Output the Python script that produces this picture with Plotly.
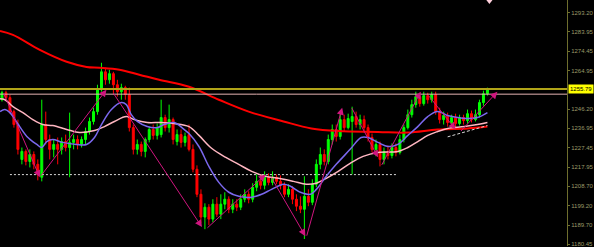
import plotly.graph_objects as go

# ---------------- data ----------------
opens = [
    1250.8, 1254.2, 1251.8, 1245.0, 1238.7, 1221.7, 1225.6, 1220.7, 1224.1, 1219.3,
    1213.0, 1238.7, 1231.4, 1226.6, 1229.0, 1226.6, 1230.4, 1227.5, 1230.0, 1231.4,
    1229.0, 1231.4, 1235.3, 1240.2, 1245.0, 1255.7, 1264.4, 1260.5, 1263.5, 1258.1,
    1254.7, 1256.7, 1253.3, 1237.2, 1226.6, 1229.0, 1225.6, 1231.4, 1236.3, 1233.4,
    1233.8, 1242.1, 1237.2, 1241.1, 1230.4, 1233.8, 1230.0, 1233.8, 1226.6, 1216.9,
    1204.7, 1193.6, 1198.4, 1192.6, 1199.9, 1195.0, 1199.9, 1202.3, 1197.4, 1199.9,
    1198.4, 1202.3, 1204.7, 1202.3, 1208.1, 1211.0, 1209.1, 1213.0, 1210.5, 1213.0,
    1211.0, 1209.1, 1204.7, 1207.1, 1202.3, 1198.9, 1197.4, 1203.7, 1200.8, 1209.6,
    1219.3, 1224.1, 1220.7, 1231.4, 1236.3, 1232.9, 1241.1, 1237.2, 1240.2, 1242.6,
    1238.7, 1241.1, 1237.2, 1232.4, 1226.6, 1229.0, 1221.7, 1225.6, 1223.6, 1227.5,
    1225.1, 1231.4, 1237.2, 1243.5, 1248.4, 1252.3, 1248.9, 1252.8, 1250.8, 1253.3,
    1245.0, 1241.1, 1243.1, 1239.7, 1242.1, 1239.2, 1242.1, 1240.6, 1244.0, 1241.1,
    1243.5, 1249.4, 1253.7]
highs = [
    1255.2, 1255.2, 1253.3, 1246.0, 1241.1, 1227.5, 1226.6, 1226.6, 1225.6, 1221.7,
    1250.8, 1245.0, 1233.8, 1231.4, 1232.4, 1232.4, 1233.8, 1244.5, 1233.8, 1233.4,
    1232.9, 1237.2, 1242.1, 1246.9, 1258.1, 1268.8, 1266.4, 1265.4, 1264.4, 1260.5,
    1258.6, 1257.6, 1256.7, 1238.7, 1231.4, 1230.4, 1232.4, 1237.7, 1238.7, 1239.2,
    1250.8, 1243.5, 1248.4, 1242.1, 1236.3, 1236.3, 1234.8, 1238.7, 1229.0, 1218.8,
    1207.1, 1200.3, 1199.9, 1202.3, 1203.3, 1204.7, 1205.7, 1203.7, 1202.3, 1202.3,
    1204.7, 1207.1, 1206.2, 1210.1, 1214.4, 1214.4, 1215.9, 1214.9, 1215.9, 1214.4,
    1213.9, 1210.5, 1209.6, 1208.6, 1204.7, 1203.7, 1213.5, 1207.1, 1212.0, 1221.7,
    1227.5, 1226.6, 1233.8, 1238.7, 1238.7, 1245.0, 1243.5, 1244.0, 1247.4, 1245.0,
    1243.5, 1243.1, 1238.7, 1234.3, 1231.4, 1230.4, 1227.5, 1228.5, 1229.5, 1229.5,
    1233.8, 1238.7, 1246.0, 1250.8, 1254.7, 1254.2, 1254.7, 1254.2, 1254.7, 1254.7,
    1246.9, 1245.0, 1244.5, 1243.5, 1244.0, 1243.5, 1243.5, 1246.0, 1245.5, 1246.0,
    1250.8, 1255.2, 1256.7]
lows = [
    1249.9, 1250.8, 1244.0, 1237.2, 1224.1, 1219.3, 1218.8, 1217.8, 1216.9, 1211.5,
    1211.0, 1229.0, 1221.7, 1222.7, 1219.3, 1224.1, 1225.6, 1213.0, 1226.6, 1226.6,
    1227.5, 1229.0, 1233.8, 1238.7, 1243.5, 1254.7, 1258.1, 1258.6, 1253.3, 1252.3,
    1250.8, 1250.8, 1235.3, 1224.1, 1224.1, 1223.2, 1222.7, 1230.0, 1231.4, 1231.4,
    1232.4, 1235.3, 1234.8, 1229.0, 1228.5, 1227.5, 1228.0, 1225.6, 1215.4, 1203.3,
    1190.6, 1187.7, 1189.7, 1191.1, 1193.6, 1192.6, 1197.4, 1195.5, 1195.5, 1196.5,
    1197.0, 1200.8, 1200.3, 1200.8, 1206.2, 1207.1, 1207.1, 1209.1, 1209.1, 1209.6,
    1207.1, 1203.3, 1203.3, 1199.9, 1196.5, 1195.5, 1182.9, 1198.9, 1199.4, 1208.1,
    1216.9, 1218.8, 1219.3, 1229.0, 1230.4, 1231.4, 1235.3, 1236.3, 1214.4, 1237.2,
    1236.3, 1234.8, 1230.4, 1225.1, 1223.2, 1218.3, 1219.3, 1221.7, 1222.2, 1223.2,
    1224.1, 1230.0, 1236.3, 1242.1, 1246.9, 1247.4, 1247.9, 1248.9, 1249.4, 1243.5,
    1239.2, 1238.7, 1237.7, 1237.2, 1236.3, 1238.2, 1238.7, 1239.2, 1239.7, 1240.2,
    1242.1, 1247.9, 1252.8]
closes = [
    1254.2, 1251.8, 1245.0, 1238.7, 1226.6, 1225.6, 1220.7, 1224.1, 1219.3, 1214.4,
    1238.7, 1231.4, 1226.6, 1229.0, 1226.6, 1230.4, 1227.5, 1230.0, 1231.4, 1229.0,
    1231.4, 1235.3, 1240.2, 1245.0, 1255.7, 1264.4, 1260.5, 1263.5, 1258.1, 1254.7,
    1256.7, 1253.3, 1237.2, 1226.6, 1229.0, 1225.6, 1231.4, 1236.3, 1233.4, 1237.2,
    1242.1, 1237.2, 1241.1, 1231.4, 1233.8, 1230.0, 1232.9, 1226.6, 1216.9, 1204.7,
    1193.6, 1198.4, 1192.6, 1199.9, 1195.0, 1199.9, 1202.3, 1197.4, 1199.9, 1198.4,
    1202.3, 1204.7, 1202.3, 1208.1, 1211.0, 1209.1, 1213.0, 1210.5, 1213.0, 1211.0,
    1209.1, 1204.7, 1207.1, 1202.3, 1198.9, 1197.4, 1203.7, 1200.8, 1209.6, 1219.3,
    1224.1, 1220.7, 1231.4, 1236.3, 1232.9, 1241.1, 1237.2, 1241.6, 1242.6, 1238.7,
    1241.1, 1237.2, 1232.4, 1226.6, 1229.0, 1221.7, 1225.6, 1223.6, 1227.5, 1225.1,
    1231.4, 1237.2, 1243.5, 1248.4, 1252.3, 1248.9, 1252.8, 1250.8, 1253.3, 1245.0,
    1241.1, 1243.1, 1239.7, 1242.1, 1239.2, 1242.1, 1240.6, 1244.0, 1241.1, 1243.5,
    1249.4, 1253.7, 1255.79]
bar_index = list(range(len(closes)))

# moving averages (bar index, price)
red_ma_x = [-0.5, 2.75, 9.5, 16.25, 21.25, 24.5, 29.5, 34.5, 39.5, 47, 54.5, 62, 70.75, 77.75, 84.5, 94.5, 102, 109.5, 117, 122]
red_ma_y = [1284.3, 1282.4, 1275.1, 1269.3, 1266.8, 1266.4, 1265.4, 1263.0, 1260.5, 1257.1, 1250.8, 1245.0, 1240.2, 1236.8, 1235.5, 1235.1, 1234.8, 1236.3, 1236.8, 1237.7]

blue_ma_x = [-0.5, 0.75, 2, 3.75, 6.25, 8.75, 10, 11.25, 12.75, 15.25, 18.75, 21.25, 23.25, 25, 27.5, 30, 31.25,
             32.5, 34, 36.5, 39, 40.75, 43.25, 45.75, 47, 49.5, 52, 54.5, 57, 59.5, 62.75, 65.25, 67.75, 70.75,
             72.5, 75, 77.5, 79, 81.5, 84, 87.5, 90.25, 92, 94.5, 97, 99.5, 102, 104.5, 107, 109.5, 112, 114.5,
             117, 119.5, 122]
blue_ma_y = [1245.0, 1246.0, 1244.5, 1239.7, 1232.9, 1229.0, 1227.5, 1230.4, 1231.4, 1230.0, 1229.0, 1229.0,
             1232.4, 1238.7, 1246.0, 1249.4, 1248.4, 1243.5, 1240.2, 1237.7, 1237.2, 1238.7, 1239.7, 1236.3,
             1234.3, 1228.0, 1218.3, 1210.5, 1205.7, 1203.7, 1203.3, 1204.7, 1207.1, 1209.6, 1208.6, 1205.7,
             1204.7, 1207.1, 1213.5, 1219.3, 1226.6, 1232.4, 1232.4, 1230.0, 1228.0, 1229.0, 1233.4, 1237.7,
             1242.6, 1245.0, 1243.1, 1242.1, 1241.6, 1242.1, 1244.5]

pink_ma_x = [-0.5, 0.75, 2.75, 5.25, 7.75, 10.25, 12.75, 16.25, 19.5, 23.25, 25.75, 28.25, 31.25, 33.25, 36.5,
             40, 43.25, 47, 49.5, 52.75, 56.25, 59.5, 62.75, 66.25, 69.5, 73.25, 76.5, 79, 81.5, 84.5, 87.5,
             90.75, 94.5, 99.5, 102, 104.5, 107, 109.5, 112, 116.25, 119.5, 122]
pink_ma_y = [1251.3, 1250.8, 1247.4, 1244.5, 1241.1, 1238.7, 1238.2, 1236.3, 1234.8, 1235.8, 1237.7, 1240.2,
             1242.6, 1241.1, 1239.7, 1239.7, 1239.2, 1237.7, 1233.4, 1227.0, 1222.7, 1219.3, 1215.9, 1213.5,
             1212.5, 1211.0, 1209.6, 1210.1, 1212.5, 1215.9, 1219.8, 1223.2, 1225.1, 1225.6, 1227.5, 1230.4,
             1233.4, 1235.3, 1236.8, 1237.7, 1238.7, 1239.7]

# zigzag arrows: start/end (bar index, price)
zz_x0 = [0.25, 9.5, 27.75, 51.25, 67.5, 76.5, 87.75, 95.25, 107, 115]
zz_y0 = [1254.7, 1213.0, 1254.7, 1187.7, 1213.5, 1183.8, 1247.4, 1218.3, 1253.3, 1234.8]
zz_x1 = [9.5, 26.25, 50.25, 66.25, 76.25, 85.5, 94.5, 105.25, 114, 124.5]
zz_y1 = [1213.0, 1255.7, 1188.7, 1214.4, 1184.3, 1246.9, 1222.7, 1254.7, 1236.3, 1254.7]

# horizontal levels
gold_level = 1256.0
pink_level = 1253.5
bid_price = 1255.79
dotted_level = 1214.3
dotted_x = [2, 99.5]
trend_x = [112, 122]
trend_y = [1232.7, 1238.2]

tick_vals = [1293.20, 1283.95, 1274.45, 1264.95, 1246.20, 1236.95, 1227.45,
             1217.95, 1208.70, 1199.20, 1189.70, 1180.45]
tick_text = ["%.2f" % v for v in tick_vals]

# ---------------- figure ----------------
fig = go.Figure()

fig.add_trace(go.Scatter(x=red_ma_x, y=red_ma_y, mode="lines",
                         line=dict(color="#ff0000", width=2, shape="spline"), hoverinfo="skip"))
fig.add_trace(go.Scatter(x=[-0.5, 142], y=[gold_level, gold_level], mode="lines",
                         line=dict(color="#b0a418", width=2), hoverinfo="skip"))
fig.add_trace(go.Scatter(x=[-0.5, 142], y=[pink_level, pink_level], mode="lines",
                         line=dict(color="#e6b4b4", width=1), hoverinfo="skip"))
fig.add_trace(go.Scatter(x=dotted_x, y=[dotted_level, dotted_level], mode="lines",
                         line=dict(color="#d8d8d8", width=1, dash="2px,2px"), hoverinfo="skip"))
fig.add_trace(go.Scatter(x=trend_x, y=trend_y, mode="lines",
                         line=dict(color="#d8d8d8", width=1, dash="3px,2px"), hoverinfo="skip"))

fig.add_trace(go.Candlestick(
    x=bar_index, open=opens, high=highs, low=lows, close=closes,
    increasing=dict(line=dict(color="#00ff00", width=1), fillcolor="#00ff00"),
    decreasing=dict(line=dict(color="#ff0000", width=1), fillcolor="#ff0000"),
    whiskerwidth=0, hoverinfo="skip"))

fig.add_trace(go.Scatter(x=pink_ma_x, y=pink_ma_y, mode="lines",
                         line=dict(color="#ffb6c1", width=1.5, shape="spline"), hoverinfo="skip"))
fig.add_trace(go.Scatter(x=blue_ma_x, y=blue_ma_y, mode="lines",
                         line=dict(color="#7b68ee", width=1.5, shape="spline"), hoverinfo="skip"))

fig.add_trace(go.Scatter(x=[122.5], y=[1298.9], mode="markers", cliponaxis=False,
                         marker=dict(symbol="triangle-down", size=6, color="#ffd0dc"), hoverinfo="skip"))

for a0, b0, a1, b1 in zip(zz_x0, zz_y0, zz_x1, zz_y1):
    fig.add_annotation(x=a1, y=b1, ax=a0, ay=b0, xref="x", yref="y", axref="x", ayref="y",
                       showarrow=True, arrowhead=2, arrowsize=1.4, arrowwidth=1,
                       arrowcolor="#d0157f", text="")

fig.add_annotation(x=1, y=bid_price, xref="paper", yref="y", xanchor="left", yanchor="middle",
                   xshift=1, text="%.2f" % bid_price, showarrow=False,
                   bgcolor="#ffff00", font=dict(color="#000000", size=6, family="Liberation Sans"),
                   borderpad=1)

fig.update_layout(
    width=594, height=247,
    margin=dict(l=0, r=24, t=0, b=0),
    paper_bgcolor="#000000", plot_bgcolor="#000000",
    showlegend=False,
    xaxis=dict(range=[-0.5, 142], visible=False, rangeslider=dict(visible=False),
               showgrid=False, zeroline=False),
    yaxis=dict(range=[1179.5, 1299.4], side="right", tickvals=tick_vals, ticktext=tick_text,
               tickfont=dict(color="#9a9a68", size=6, family="Liberation Sans"),
               ticklabeloverflow="allow",
               showgrid=False, zeroline=False, showline=True, linecolor="#6e6e2e", linewidth=1,
               ticks="outside", ticklen=2, tickcolor="#6e6e2e"),
)

fig.write_html("out.html")
